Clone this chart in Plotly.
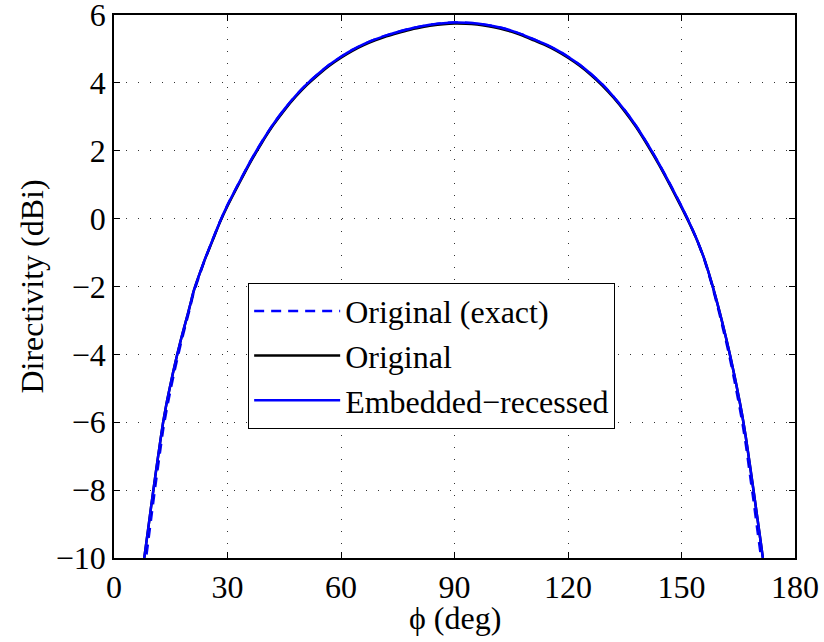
import plotly.graph_objects as go

# angle samples (deg)
phi = [8, 9, 10, 11, 12, 13, 14, 15, 16, 17, 18, 19, 20, 21, 22, 24, 26, 28,
       30, 33, 36, 39, 42, 45, 48, 51, 54, 57, 60, 63, 66, 69, 72, 75, 78, 81, 84, 87,
       90, 93, 96, 99, 102, 105, 108, 111, 114, 117, 120, 123, 126, 129, 132, 135,
       138, 141, 144, 147, 150, 152, 154, 156, 158, 159, 160, 161, 162, 163, 164,
       165, 166, 167, 168, 169, 170, 171, 171.5]

# directivity (dBi)
d_embedded = [-10.0, -9.17, -8.33, -7.52, -6.74, -5.99, -5.38, -4.85, -4.34, -3.87,
              -3.43, -3.02, -2.6, -2.16, -1.82, -1.2, -0.64, -0.09,
              0.4, 1.05, 1.68, 2.25, 2.77, 3.22, 3.62, 3.97, 4.27, 4.54, 4.77, 4.97,
              5.14, 5.28, 5.4, 5.5, 5.59, 5.66, 5.72, 5.76,
              5.78, 5.775, 5.75, 5.7, 5.63, 5.54, 5.42, 5.28, 5.14, 4.97, 4.77, 4.54,
              4.27, 3.96, 3.6, 3.19, 2.73, 2.2, 1.63, 1.01, 0.36, -0.1, -0.6, -1.18,
              -1.9, -2.3, -2.72, -3.16, -3.62, -4.11, -4.63, -5.18, -5.76, -6.44,
              -7.2, -7.98, -8.78, -9.58, -10.0]
d_original = [-10.0, -9.17, -8.33, -7.52, -6.74, -5.99, -5.38, -4.85, -4.34, -3.87,
              -3.43, -3.02, -2.6, -2.16, -1.82, -1.21, -0.66, -0.11,
              0.37, 1.02, 1.65, 2.22, 2.74, 3.19, 3.59, 3.94, 4.24, 4.51, 4.74, 4.94,
              5.11, 5.25, 5.37, 5.47, 5.56, 5.63, 5.69, 5.73,
              5.75, 5.745, 5.72, 5.67, 5.6, 5.51, 5.39, 5.25, 5.11, 4.94, 4.74, 4.51,
              4.24, 3.93, 3.57, 3.16, 2.7, 2.17, 1.6, 0.98, 0.33, -0.12, -0.61, -1.18,
              -1.9, -2.3, -2.72, -3.16, -3.62, -4.11, -4.63, -5.18, -5.76, -6.44,
              -7.2, -7.98, -8.78, -9.58, -10.0]
d_exact = [-10.4, -9.55, -8.68, -7.82, -7.01, -6.21, -5.58, -5.02, -4.49, -4.0,
           -3.53, -3.1, -2.67, -2.21, -1.86, -1.22, -0.64, -0.09,
           0.4, 1.05, 1.68, 2.25, 2.77, 3.22, 3.62, 3.97, 4.27, 4.54, 4.77, 4.97,
           5.14, 5.28, 5.4, 5.5, 5.59, 5.66, 5.72, 5.76,
           5.78, 5.775, 5.75, 5.7, 5.63, 5.54, 5.42, 5.28, 5.14, 4.97, 4.77, 4.54,
           4.27, 3.96, 3.6, 3.19, 2.73, 2.2, 1.63, 1.01, 0.36, -0.1, -0.6, -1.2,
           -1.94, -2.36, -2.79, -3.26, -3.72, -4.23, -4.78, -5.35, -5.96, -6.66,
           -7.47, -8.28, -9.13, -9.96, -10.4]

x_ticks = [0, 30, 60, 90, 120, 150, 180]
y_ticks = [-10, -8, -6, -4, -2, 0, 2, 4, 6]

FONT = "Liberation Serif"
FSIZE = 32
BLUE = "#0000ff"

fig = go.Figure()
fig.add_trace(go.Scatter(
    x=phi, y=d_exact, mode="lines", name="Original (exact)",
    line=dict(color=BLUE, width=2.5, dash="10px,7px", shape="spline", smoothing=0.5),
    legendgroup="a",
))
fig.add_trace(go.Scatter(
    x=phi, y=d_original, mode="lines", name="Original",
    line=dict(color="black", width=2.5, shape="spline", smoothing=0.5),
    legendgroup="b",
))
fig.add_trace(go.Scatter(
    x=phi, y=d_embedded, mode="lines", name="Embedded\u2212recessed",
    line=dict(color=BLUE, width=2.5, shape="spline", smoothing=0.5),
    legendgroup="c",
))

axis_common = dict(
    showline=True, linecolor="black", linewidth=1.5, mirror="ticks",
    ticks="inside", ticklen=6, tickwidth=1, tickcolor="black",
    showgrid=True, gridcolor="#333333", gridwidth=1, griddash="1px,11px",
    zeroline=False, ticklabeloverflow="allow", automargin=False,
    tickfont=dict(family=FONT, size=FSIZE, color="black"),
)

fig.update_layout(
    width=824, height=642,
    margin=dict(l=114, r=29, t=15, b=84),
    plot_bgcolor="white", paper_bgcolor="white",
    font=dict(family=FONT, size=FSIZE, color="black"),
    hovermode=False,
    showlegend=True,
    legend=dict(
        x=0.197, y=0.507, xanchor="left", yanchor="top",
        bordercolor="black", borderwidth=1, bgcolor="white",
        font=dict(family=FONT, size=FSIZE, color="black"),
        itemwidth=86, tracegroupgap=0,
    ),
    annotations=[dict(
        text="\u03d5 (deg)", x=0.5, y=-0.11, xref="paper", yref="paper",
        xanchor="center", yanchor="middle", showarrow=False,
        font=dict(family=FONT, size=FSIZE, color="black"),
    )],
)
fig.update_xaxes(range=[0, 180], tickvals=x_ticks, **axis_common)
fig.update_yaxes(
    range=[-10, 6], tickvals=y_ticks,
    title=dict(text="Directivity (dBi)", standoff=3, font=dict(family=FONT, size=FSIZE)),
    **axis_common,
)

fig.write_html("out.html", config={"displayModeBar": False},
               post_script="document.body.style.margin='0';")
